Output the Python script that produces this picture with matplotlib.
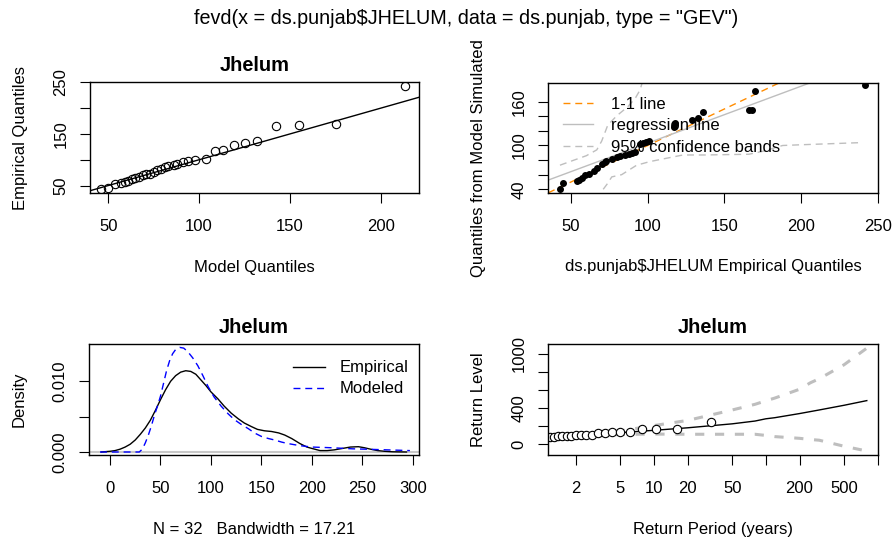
import numpy as np
import matplotlib
matplotlib.use('Agg')
import matplotlib.pyplot as plt
from matplotlib.transforms import Bbox, TransformedBbox

plt.rcParams['font.family'] = ['Liberation Sans', 'DejaVu Sans']

# sorted annual maxima
empirical = [43, 45, 54, 55, 57, 59, 62, 65, 67, 70, 72, 73, 77, 80, 82, 85,
             88, 90, 92, 95, 97, 99, 101, 117, 118, 129, 133, 136, 166, 168, 170, 242]
# GEV model quantiles (x of panel 1)
model_q = [46, 50, 54, 57, 59, 61, 63, 65, 67, 69, 71, 73, 75, 77, 79, 81,
           83, 86, 88, 91, 94, 98, 104, 108.5, 113, 119, 125, 132, 142.5, 155, 175.5, 213.5]
# quantiles from model simulated data (y of panel 2)
sim_q = [41, 49, 51, 53, 55, 59, 61, 65, 69, 74, 77, 79, 81, 84, 86, 87,
         88, 90, 91, 102, 104, 105, 106, 126, 131, 135, 138, 146, 149, 149, 174, 183]
# regression line of panel 2
reg_icpt = 25.2
reg_slope = 0.78

# 95% bands of panel 2
band_up_x = [42.8, 52, 60, 66.8, 70, 74, 80, 87, 92, 95, 97]
band_up_y = [73, 80, 86, 94, 106, 128, 141, 153, 165, 176, 190]
band_lo_x = [71, 73.5, 76.6, 83, 92.8, 101.5, 113.4, 123, 137, 166, 175, 188, 200, 240]
band_lo_y = [40, 47, 57, 60, 73, 78, 83, 87, 87, 88, 92, 100, 101, 104]

# density panel
emp_dens_x = [-8.6, 0, 5, 10, 15, 20, 25, 30, 35, 40, 45, 50, 55, 60, 65, 70, 75, 80, 85,
              90, 95, 100, 107, 113, 120, 127, 133, 140, 146, 153, 160, 167, 173, 180,
              188, 195, 200, 208, 215, 222, 230, 238, 246, 252, 258, 265, 272, 280, 293.6]
emp_dens_y = [0.0, 0.0001, 0.0002, 0.0004, 0.0007, 0.0011, 0.0017, 0.0025, 0.0034, 0.0045,
              0.0059, 0.0074, 0.0088, 0.0100, 0.0108, 0.0113, 0.0115, 0.0114, 0.0110, 0.0102,
              0.0094, 0.0085, 0.0075, 0.0065, 0.0055, 0.0047, 0.0041, 0.0036, 0.0032, 0.0030,
              0.0029, 0.0027, 0.0024, 0.0019, 0.0012, 0.0007, 0.0005, 0.0002, 0.0002, 0.0003,
              0.0005, 0.0007, 0.00075, 0.0006, 0.0004, 0.0002, 0.0001, 0.00003, 0.0]
mod_dens_x = [-9.9, 29, 32, 35, 38, 41, 44, 47, 50, 53, 56, 59, 62, 65, 69, 73, 77, 82,
              87, 92, 97, 103, 110, 117, 123, 130, 137, 143, 150, 157, 163, 170, 176,
              188, 200, 220, 240, 253, 275, 297]
mod_dens_y = [0, 0, 0.0004, 0.0013, 0.0024, 0.0037, 0.0052, 0.0065, 0.0079, 0.0097, 0.0115,
              0.0129, 0.0139, 0.0145, 0.0148, 0.0147, 0.0142, 0.0133, 0.0122, 0.0108, 0.0093,
              0.0078, 0.0065, 0.0054, 0.0046, 0.0039, 0.0033, 0.0027, 0.0022, 0.0019, 0.0017,
              0.0014, 0.0012, 0.0009, 0.0007, 0.0006, 0.00045, 0.0004, 0.0003, 0.0002]

# return level panel
rp_points = [0.29, 0.36, 0.42, 0.47, 0.53, 0.59, 0.64, 0.71, 0.77, 0.84, 0.91, 0.99,
             1.07, 1.17, 1.27, 1.38, 1.51, 1.65, 1.81, 2.00, 2.21, 2.47, 2.77, 3.14,
             3.60, 4.19, 4.98, 6.09, 7.74, 10.49, 15.99, 32.50]
rl_x = [1.13, 1.5, 2, 3, 5, 10, 20, 50, 80, 100, 120, 200, 250, 300, 500, 800]
rl_y = [72, 84, 92, 108, 126, 152, 180, 224, 255, 280, 292, 338, 360, 378, 430, 482]
ci_x = [2, 5, 10, 20, 50, 80, 100, 120, 200, 250, 300, 500, 800]
ci_up = [100, 145, 205, 262, 378, 441, 480, 510, 608, 680, 725, 880, 1065]
ci_lo = [84, 106, 110, 108, 108, 108, 95, 82, 63, 50, 42, -25, -78]

FS = 12
fig = plt.figure(figsize=(8.93, 5.47), dpi=100)

def style(ax):
    ax.tick_params(direction='out', length=7, width=0.8, labelsize=FS)
    ax.tick_params(axis='x', pad=11.5)
    ax.tick_params(axis='y', pad=8.5)
    for lab in ax.get_yticklabels():
        lab.set_rotation(90)
        lab.set_va('center')
    for s in ax.spines.values():
        s.set_linewidth(1.0)
    ax.xaxis.set_label_coords(0.5, -0.598)
    ax.yaxis.set_label_coords(-0.19, 0.5)

# panel 1: qq plot
ax1 = fig.add_axes([0.1008, 0.6466, 0.3684, 0.2034])
ax1.plot(model_q, empirical, 'o', mfc='none', mec='black', ms=6, mew=0.8)
ax1.axline((0, 0), slope=1, color='black', lw=1)
ax1.set_xlim(40, 221)
ax1.set_ylim(35, 250.5)
ax1.set_xticks([50, 100, 150, 200])
ax1.set_yticks([50, 100, 150, 200, 250])
ax1.set_yticklabels(['50', '', '150', '', '250'])
ax1.set_xlabel('Model Quantiles', fontsize=FS)
ax1.set_ylabel('Empirical Quantiles', fontsize=FS)
ax1.set_title('Jhelum', fontsize=14.4, fontweight='bold', pad=8)
style(ax1)

# panel 2: qq plot against simulated data
ax2 = fig.add_axes([0.614, 0.6466, 0.3689, 0.2022])
ax2.axline((0, 0), slope=1, color='#ff8c00', lw=1, dashes=(5, 3.5), label='1-1 line')
ax2.axline((0, reg_icpt), slope=reg_slope, color='#bebebe', lw=1, label='regression line')
ax2.plot(band_up_x, band_up_y, color='#bebebe', lw=1, dashes=(5, 3.5),
         label='95% confidence bands')
ax2.plot(band_lo_x, band_lo_y, color='#bebebe', lw=1, dashes=(5, 3.5))
ax2.plot(empirical, sim_q, 'o', color='black', ms=4)
ax2.set_xlim(35.2, 250)
ax2.set_ylim(34.5, 186)
ax2.set_xticks([50, 100, 150, 200, 250])
ax2.set_yticks([40, 60, 80, 100, 120, 140, 160])
ax2.set_yticklabels(['40', '', '', '100', '', '', '160'])
ax2.set_xlabel('ds.punjab\\$JHELUM Empirical Quantiles', fontsize=FS)
ax2.set_ylabel('Quantiles from Model Simulated Data', fontsize=FS)
ax2.legend(loc='upper left', bbox_to_anchor=(0.045, 0.871), frameon=False, fontsize=FS,
           borderpad=0, borderaxespad=0, handlelength=1.8, handletextpad=1.1,
           labelspacing=0.38)
style(ax2)
# label runs past the top of its panel, cut it like R does
clip = TransformedBbox(Bbox([[0, 0], [1, 1 - 38 / 547]]), fig.transFigure)
ax2.yaxis.label.set_clip_box(clip)
ax2.yaxis.label.set_clip_on(True)

# panel 3: density
ax3 = fig.add_axes([0.100, 0.1676, 0.3692, 0.2035])
ax3.axhline(0, color='#c8c8c8', lw=1.5)
ax3.plot(emp_dens_x, emp_dens_y, color='black', lw=1, label='Empirical')
ax3.plot(mod_dens_x, mod_dens_y, color='blue', lw=1, dashes=(5, 3.5), label='Modeled')
ax3.set_xlim(-20.5, 306)
ax3.set_ylim(-0.00047, 0.01528)
ax3.set_xticks([0, 50, 100, 150, 200, 250, 300])
ax3.set_yticks([0, 0.005, 0.010])
ax3.set_yticklabels(['0.000', '', '0.010'])
ax3.set_xlabel('N = 32   Bandwidth = 17.21', fontsize=FS)
ax3.set_ylabel('Density', fontsize=FS)
ax3.set_title('Jhelum', fontsize=14.4, fontweight='bold', pad=8)
ax3.legend(loc='upper left', bbox_to_anchor=(0.618, 0.853), frameon=False, fontsize=FS,
           borderpad=0, borderaxespad=0, handlelength=1.9, handletextpad=0.9,
           labelspacing=0.36)
style(ax3)

# panel 4: return levels
ax4 = fig.add_axes([0.614, 0.1676, 0.3689, 0.2035])
ax4.set_xscale('log')
ax4.plot(ci_x, ci_up, color='#bebebe', lw=2.2, dashes=(3, 3.5))
ax4.plot(ci_x, ci_lo, color='#bebebe', lw=2.2, dashes=(3, 3.5))
ax4.plot(rl_x, rl_y, color='black', lw=1)
ax4.plot(rp_points, empirical, 'o', mfc='white', mec='black', ms=6, mew=0.8)
ax4.set_xlim(1.13, 1002)
ax4.set_ylim(-126, 1111)
ax4.set_xticks([2, 5, 10, 20, 50, 100, 200, 500, 1000])
ax4.set_xticklabels(['2', '5', '10', '20', '50', '', '200', '500', ''])
ax4.xaxis.set_minor_locator(matplotlib.ticker.NullLocator())
ax4.set_yticks([0, 200, 400, 600, 800, 1000])
ax4.set_yticklabels(['0', '', '400', '', '', '1000'])
ax4.set_xlabel('Return Period (years)', fontsize=FS)
ax4.set_ylabel('Return Level', fontsize=FS)
ax4.set_title('Jhelum', fontsize=14.4, fontweight='bold', pad=8)
style(ax4)

fig.suptitle('fevd(x = ds.punjab\\$JHELUM, data = ds.punjab, type = "GEV")',
             fontsize=14.2, x=466 / 893, y=1 - 18 / 547, va='center')

fig.savefig('out.png', dpi=100)
